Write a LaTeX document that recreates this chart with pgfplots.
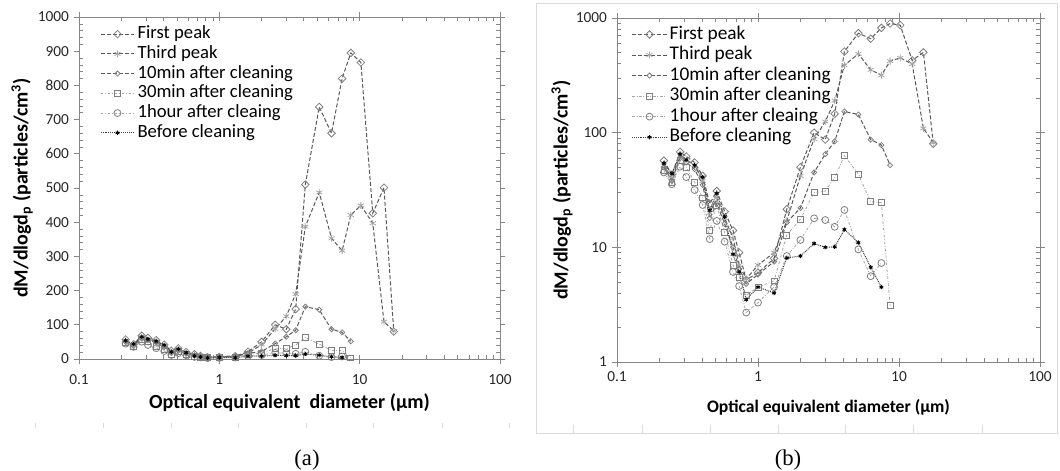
\documentclass[border=0pt]{standalone}
\usepackage{fontspec}
\setmainfont{Carlito}
\newfontfamily\timesfont{Liberation Serif}
\usepackage{pgfplots}
\usepackage{pgfplotstable}
\pgfplotsset{compat=1.18}

\definecolor{axgray}{HTML}{868686}
\definecolor{ln}{HTML}{595959}
\definecolor{mk}{HTML}{7F7F7F}
\definecolor{lt}{HTML}{A6A6A6}
\definecolor{dk}{HTML}{404040}
\definecolor{faint}{HTML}{DADADA}

\pgfplotstableread{
x      fp    tp    m10   m30   h1    bc
0.215  57    52    50    47    45    54
0.245  43    40    38    37    35.5  44
0.28   68    63    60    57    50.5  65
0.31   62    58    55    50    41    58
0.355  55    52    48    37    31.6  52
0.405  42    38    35    27    23.4  41
0.455  24    20    18    14    11.8  21
0.51   31    27    24    23    17    29.5
0.58   20.5  18    16    13.5  11.2  18.5
0.665  14    12    10    7     6.1   8.7
0.735  9     7     6.5   5.5   4.6   6.1
0.825  5.2   5.3   4.8   3.8   2.7   3.5
1.0    6     7     5.8   4.5   3.3   4.5
1.3    8     9     7.5   5.1   4.5   4.0
1.6    21.5  17    16.5  12.8  8.4   8.1
2.0    50    42    22    17.6  11.6  8.4
2.5    100   88    45    30    17.9  10.8
3.0    87    125   65    31    17.3  10
3.5    146   190   84    40.5  15.1  10.1
4.1    510   387   153   63    21.2  14.3
5.15   737   487   144   43.5  9.6   11
6.3    660   353   87    25    5.6   6.7
7.5    820   317   78    24.5  7.3   4.5
8.65   895   421   52    3.1   nan   nan
10.2   867   449   nan   nan   nan   nan
12.4   426   397   nan   nan   nan   nan
14.9   501   109   nan   nan   nan   nan
17.5   80    82    nan   nan   nan   nan
}\datatable

\pgfplotsset{
  myfp/.style={color=ln, line width=0.75pt, dash pattern=on 3pt off 1.6pt,
    mark=square, mark size=2pt, mark options={solid, rotate=45, draw=mk, line width=0.6pt}},
  mytp/.style={color=ln, line width=0.75pt, dash pattern=on 3pt off 1.6pt,
    mark=asterisk, mark size=2.6pt, mark options={solid, draw=lt, line width=0.6pt}},
  mym10/.style={color=ln, line width=0.75pt, dash pattern=on 3pt off 1.6pt,
    mark=square, mark size=1.35pt, mark options={solid, rotate=45, draw=mk, line width=0.6pt}},
  mym30/.style={color=lt, line width=0.6pt, dash pattern=on 2pt off 1.3pt on 0.6pt off 1.3pt,
    mark=square, mark size=2.2pt, mark options={solid, draw=mk, line width=0.6pt}},
  myh1/.style={color=lt, line width=0.6pt, dash pattern=on 2pt off 1.3pt on 0.6pt off 1.3pt,
    mark=o, mark size=2.6pt, mark options={solid, draw=mk, line width=0.6pt}},
  mybc/.style={color=dk, line width=0.75pt, dash pattern=on 0.7pt off 0.7pt,
    mark=asterisk, mark size=1.6pt, mark options={solid, draw=black, line width=0.7pt}},
}

\begin{document}
\begin{tikzpicture}
\path[use as bounding box] (0,0) rectangle (795pt,353.25pt);

% faint decorations below panel (a)
\foreach \xx in {35,103,171,238,306,373,442,509}
  \draw[faint, line width=0.5pt] (\xx*0.75pt,32.25pt) -- (\xx*0.75pt,36pt);
% frame of panel (b)
\draw[faint, line width=0.6pt] (402pt,28.5pt) rectangle (792.75pt,351pt);
\foreach \xx in {573,642,710,778,845,913,982}
  \draw[faint, line width=0.5pt] (\xx*0.75pt,28.5pt) -- (\xx*0.75pt,34.5pt);

% ---------------- panel (a) ----------------
\begin{axis}[
  scale only axis,
  xmode=log,
  xmin=0.1, xmax=100,
  xtick={0.1,1,10,100},
  xticklabels={0.1,1,10,100},
  axis line style={axgray, line width=0.6pt},
  every tick/.style={axgray, line width=0.5pt},
  tick align=outside,
  major tick length=4pt,
  minor tick length=-3pt,
  tick label style={font=\fontsize{11.5}{13}\selectfont, text=black!85},
  xticklabel style={yshift=-4pt},
  /pgf/number format/assume math mode=true,
  /pgf/number format/1000 sep={},
  legend cell align=left,
  legend image code/.code={\draw[mark repeat=2,mark phase=2] plot coordinates {(0pt,0pt)(12.5pt,0pt)(25pt,0pt)};},
  legend style={draw=none, fill=none, inner sep=0pt,
    font=\fontsize{14}{16}\selectfont,
    nodes={inner ysep=0.5pt, inner xsep=2.2pt, text height=10pt, text depth=3pt},
    row sep=0.8pt, anchor=north west, at={(0.050,0.978)}},
  at={(59.25pt,84pt)}, anchor=south west,
  width=315.75pt, height=256.5pt,
  ymin=0, ymax=1000, ytick distance=100,
  minor y tick num=4,
  xlabel={\textbf{Optical equivalent\ \ diameter (\textmu m)}},
  ylabel={\textbf{dM/dlogd\textsubscript{p} (particles/cm\textsuperscript{3})}},
  xlabel style={font=\fontsize{15}{17}\selectfont, at={(0.5,-0.129)}, anchor=center},
  ylabel style={font=\fontsize{15}{17}\selectfont, at={(-0.135,0.5)}, anchor=center},
]
\addplot[myfp] table[x=x,y=fp] {\datatable};
\addlegendentry{First peak}
\addplot[mytp] table[x=x,y=tp] {\datatable};
\addlegendentry{Third peak}
\addplot[mym10] table[x=x,y=m10] {\datatable};
\addlegendentry{10min after cleaning}
\addplot[mym30] table[x=x,y=m30] {\datatable};
\addlegendentry{30min after cleaning}
\addplot[myh1] table[x=x,y=h1] {\datatable};
\addlegendentry{1hour after cleaing}
\addplot[mybc] table[x=x,y=bc] {\datatable};
\addlegendentry{Before cleaning}
\end{axis}

% ---------------- panel (b) ----------------
\begin{axis}[
  scale only axis,
  xmode=log, ymode=log,
  xmin=0.1, xmax=100,
  xtick={0.1,1,10,100},
  xticklabels={0.1,1,10,100},
  axis line style={axgray, line width=0.6pt},
  every tick/.style={axgray, line width=0.5pt},
  tick align=outside,
  major tick length=4pt,
  minor tick length=-3pt,
  tick label style={font=\fontsize{11.5}{13}\selectfont, text=black!85},
  legend cell align=left,
  legend image code/.code={\draw[mark repeat=2,mark phase=2] plot coordinates {(0pt,0pt)(13pt,0pt)(26pt,0pt)};},
  legend style={draw=none, fill=none, inner sep=0pt,
    font=\fontsize{14.5}{16}\selectfont,
    nodes={inner ysep=0.5pt, inner xsep=1.8pt, text height=10pt, text depth=3pt},
    row sep=1.4pt, anchor=north west, at={(0.034,0.98)}},
  at={(462.75pt,81.75pt)}, anchor=south west,
  width=317.25pt, height=258pt,
  ymin=1, ymax=1000,
  ytick={1,10,100,1000}, yticklabels={1,10,100,1000},
  xlabel={\textbf{Optical equivalent diameter (\textmu m)}},
  ylabel={\textbf{dM/dlogd\textsubscript{p} (particles/cm\textsuperscript{3})}},
  xlabel style={font=\fontsize{13.2}{15}\selectfont, at={(0.5,-0.131)}, anchor=center},
  ylabel style={font=\fontsize{15}{17}\selectfont, at={(-0.130,0.5)}, anchor=center},
]
\addplot[myfp] table[x=x,y=fp] {\datatable};
\addlegendentry{First peak}
\addplot[mytp] table[x=x,y=tp] {\datatable};
\addlegendentry{Third peak}
\addplot[mym10] table[x=x,y=m10] {\datatable};
\addlegendentry{10min after cleaning}
\addplot[mym30] table[x=x,y=m30] {\datatable};
\addlegendentry{30min after cleaning}
\addplot[myh1] table[x=x,y=h1] {\datatable};
\addlegendentry{1hour after cleaing}
\addplot[mybc] table[x=x,y=bc] {\datatable};
\addlegendentry{Before cleaning}
\end{axis}

\node[font=\timesfont\fontsize{17}{19}\selectfont] at (230.25pt,8.5pt) {(a)};
\node[font=\timesfont\fontsize{17}{19}\selectfont] at (591pt,8.5pt) {(b)};
\end{tikzpicture}
\end{document}
